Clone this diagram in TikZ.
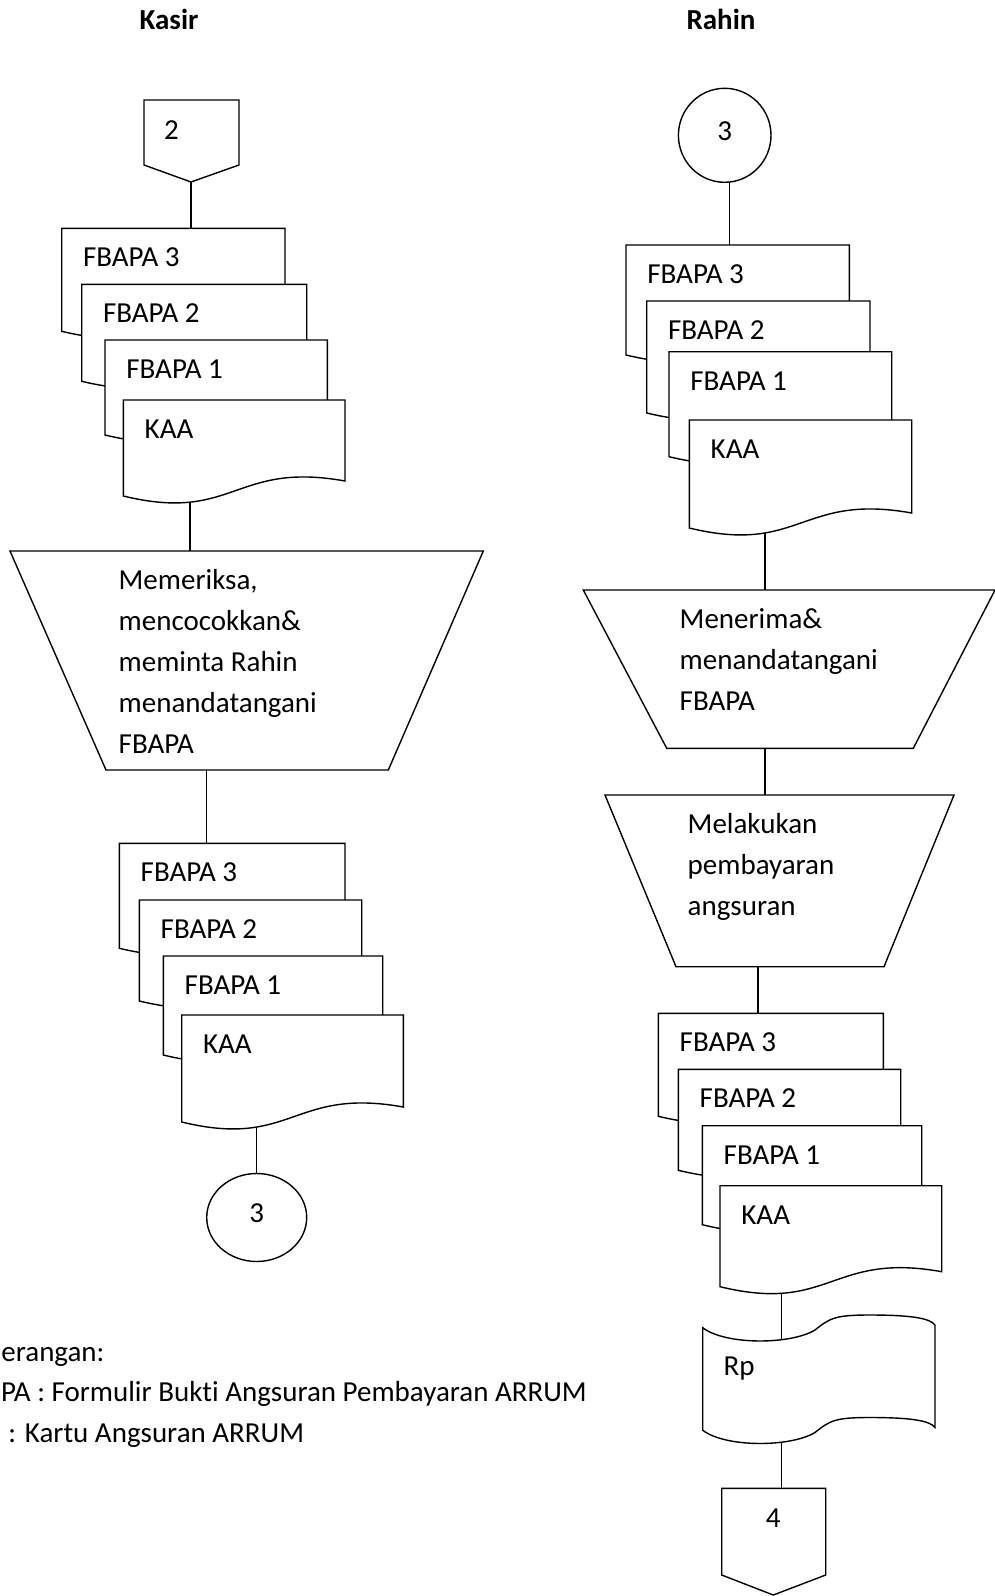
\documentclass[tikz,border=0pt]{standalone}
\usepackage{fontspec}
\setmainfont{Carlito}[Ligatures=NoCommon]
\usepackage{tikz}
\usetikzlibrary{shapes.geometric}
\pgfdeclarelayer{bg}
\pgfsetlayers{bg,main}

% document symbol: name, x, y (top left), width, height, label
\newcommand{\dokumen}[6]{%
  \begin{scope}[shift={(#2,#3)}]
    \draw[garis, fill=white] (0,0) -- (#4,0) -- (#4,#5)
      .. controls (0.5*#4,#5-20) and (0.5*#4,#5+42) .. (0,#5+15) -- cycle;
    \node[teks, anchor=base west] (#1) at (21,38.3) {#6};
    \coordinate (#1-n) at (0.5*#4,0);
    \coordinate (#1-s) at (0.3*#4,#5);
  \end{scope}}

\begin{document}
\begin{tikzpicture}[x=0.5pt, y=-0.5pt,
  garis/.style={line width=0.7pt},
  teks/.style={inner sep=0pt, font=\fontsize{14.5}{20.5}\selectfont},
  judul/.style={inner sep=0pt, font=\fontsize{14.5}{17}\selectfont\bfseries},
  konektor/.style={garis, draw, fill=white, ellipse, inner sep=0pt,
                   text depth=4.5pt, font=\fontsize{14.5}{17}\selectfont}]
  \useasboundingbox (0,0) rectangle (995,1596);

  % Titles
  \node[judul, anchor=base] (kasir) at (169,29.5) {Kasir};
  \node[judul, anchor=base] (rahin) at (721,29.5) {Rahin};

  % Kasir: off-page connector 2
  \draw[garis, fill=white] (144,100) -- (239,100) -- (239,165) -- (191,182) -- (144,165) -- cycle;
  \node[teks, anchor=base] (hal2) at (171.5,139.5) {2};
  \coordinate (hal2-s) at (191,182);

  % Kasir: documents in
  \dokumen{ka3}{61.7}{228.3}{223.3}{88}{FBAPA 3}
  \dokumen{ka2}{81.7}{284.3}{225}{82}{FBAPA 2}
  \dokumen{ka1}{105}{340}{222.3}{80}{FBAPA 1}
  \dokumen{ka0}{123.3}{400}{221.7}{81}{KAA}

  % Kasir: manual process (base = last line)
  \draw[garis, fill=white] (10,551) -- (483.3,551) -- (388.3,770) -- (106,770) -- cycle;
  \node[teks, anchor=base west, align=left] (periksa) at (118.3,753.3)
    {Memeriksa,\\mencocokkan\&\\meminta Rahin\\menandatangani\\FBAPA};
  \coordinate (periksa-n) at (190,551);
  \coordinate (periksa-s) at (206.7,770);

  % Kasir: documents out
  \dokumen{kb3}{119.3}{843.3}{225.7}{90}{FBAPA 3}
  \dokumen{kb2}{139.3}{900}{222.4}{86}{FBAPA 2}
  \dokumen{kb1}{163.3}{956}{219.4}{84}{FBAPA 1}
  \dokumen{kb0}{181.7}{1015}{221.6}{92}{KAA}

  % Kasir: connector 3
  \node[konektor, minimum width=50pt, minimum height=44pt] (hal3a) at (256.7,1217.5) {3};

  % Rahin: connector 3
  \node[konektor, minimum width=46.3pt, minimum height=47pt] (hal3b) at (724.7,135.3) {3};
  \coordinate (hal3b-s) at (729.3,182.3);

  % Rahin: documents in
  \dokumen{ra3}{626}{245}{223.3}{95}{FBAPA 3}
  \dokumen{ra2}{646.7}{301}{223.3}{97}{FBAPA 2}
  \dokumen{ra1}{669}{351.7}{222.7}{90}{FBAPA 1}
  \dokumen{ra0}{689.3}{420}{222.4}{93}{KAA}

  % Rahin: manual processes
  \draw[garis, fill=white] (583.3,590) -- (995,590) -- (913.3,748.3) -- (666.7,748.3) -- cycle;
  \node[teks, anchor=base west, align=left] (terima) at (679.3,710.7)
    {Menerima\&\\menandatangani\\FBAPA};
  \coordinate (terima-n) at (765,590);
  \coordinate (terima-s) at (765,748.3);

  \draw[garis, fill=white] (605,795) -- (954,795) -- (884,966.7) -- (676,966.7) -- cycle;
  \node[teks, anchor=base west, align=left] (bayar) at (687.3,915)
    {Melakukan\\pembayaran\\angsuran};
  \coordinate (bayar-n) at (765,795);
  \coordinate (bayar-s) at (758,966.7);

  % Rahin: documents out
  \dokumen{rb3}{658.3}{1013.3}{225}{88}{FBAPA 3}
  \dokumen{rb2}{678.3}{1069.3}{222.4}{86}{FBAPA 2}
  \dokumen{rb1}{702.3}{1125.7}{219.4}{84}{FBAPA 1}
  \dokumen{rb0}{720}{1185.7}{221.7}{86}{KAA}

  % Rahin: money (punched tape)
  \draw[garis, fill=white] (702.7,1327.7) .. controls (725,1345) and (790,1345) .. (815,1330)
    .. controls (830,1318) and (835,1315) .. (870,1315)
    .. controls (910,1315) and (930,1318) .. (935,1325) -- (935,1427.5)
    .. controls (930,1420.5) and (910,1417.5) .. (870,1417.5)
    .. controls (835,1417.5) and (830,1420.5) .. (815,1432.5)
    .. controls (790,1447.5) and (725,1447.5) .. (702.7,1430.2) -- cycle;
  \node[teks, anchor=base west] (rp) at (723.3,1375) {Rp};
  \coordinate (rp-x) at (781.7,1380);

  % Rahin: off-page connector 4
  \draw[garis, fill=white] (721.7,1488.3) -- (825.7,1488.3) -- (825.7,1575) -- (773.3,1595) -- (721.7,1575) -- cycle;
  \node[teks, anchor=base] (hal4) at (773.3,1527) {4};
  \coordinate (hal4-n) at (773.3,1488.3);

  % Legend
  \node[teks, anchor=base west] (ket1) at (1,1361) {erangan:};
  \node[teks, anchor=base west] (ket2) at (0.7,1401.5) {PA : Formulir Bukti Angsuran Pembayaran ARRUM};
  \node[teks, anchor=base west] (ket3) at (8,1442.5) {: Kartu Angsuran ARRUM};

  % Flow lines
  \begin{pgfonlayer}{bg}
    \draw[garis] (hal2-s) -- (hal2-s |- ka3-n);
    \draw[garis] (periksa-n) -- (periksa-n |- ka0-s);
    \draw[garis] (periksa-s) -- (periksa-s |- kb3-n);
    \draw[garis] (hal3a) -- (hal3a |- kb0-s);
    \draw[garis] (hal3b-s) -- (hal3b-s |- ra3-n);
    \draw[garis] (terima-n) -- (terima-n |- ra0-s);
    \draw[garis] (terima-s) -- (bayar-n);
    \draw[garis] (bayar-s) -- (bayar-s |- rb3-n);
    \draw[garis] (rp-x) -- (rp-x |- rb0-s);
    \draw[garis] (rp-x) -- (rp-x |- hal4-n);
  \end{pgfonlayer}
\end{tikzpicture}
\end{document}
